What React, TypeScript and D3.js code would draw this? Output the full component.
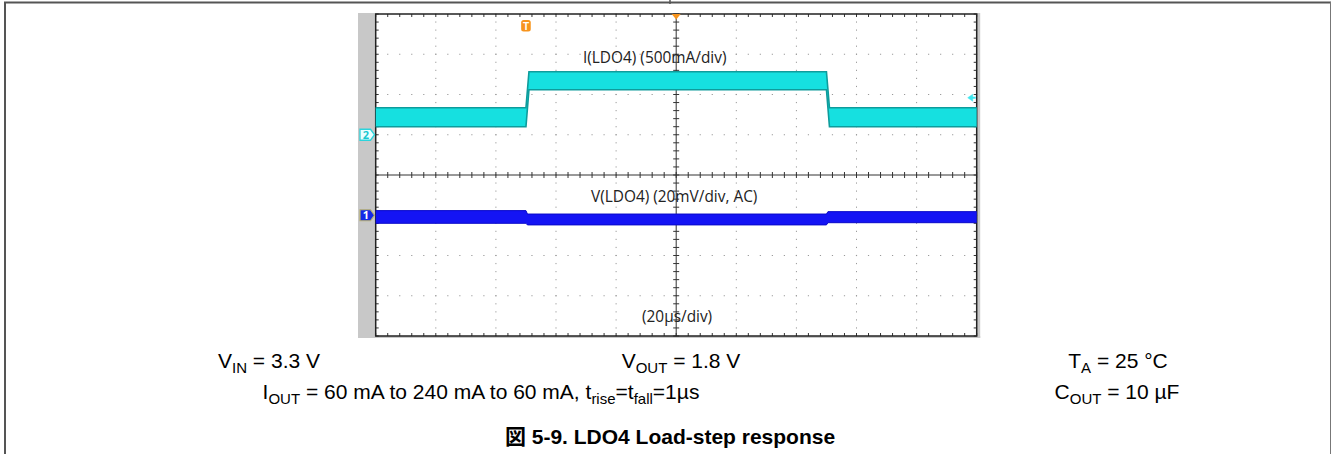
import React from 'react';
import * as d3 from 'd3';

// ---- data ----
const timeRangeUs = [-100, 100]; // 20 µs/div, 10 div
const currentRangeMA = [-2500, 1500]; // 500 mA/div, 8 div, ch2 ground at 0
const voltageRangeMV = [-60, 100]; // 20 mV/div, 8 div, ch1 marker at 0

const currentTimesUs = [-100, -50, -49, 50, 51, 100];
const currentUpperMA = [335, 335, 783, 783, 335, 335];
const currentLowerMA = [99, 99, 559, 559, 99, 99];

const voltageTimesUs = [-100, -50, -49.5, 50, 50.5, 100];
const voltageUpperMV = [2.3, 2.3, 0.6, 0.6, 1.8, 1.8];
const voltageLowerMV = [-4.0, -4.0, -4.8, -4.8, -3.7, -3.7];

const triggerTimeUs = -50;
const triggerLevelMA = 460;

const currentLabel = 'I(LDO4) (500mA/div)';
const voltageLabel = 'V(LDO4) (20mV/div, AC)';
const timeLabel = '(20µs/div)';
const captionTitle = '図 5-9. LDO4 Load-step response';

const W = 1331;
const H = 454;
const plot = { left: 375.7, right: 976.7, top: 14, bottom: 336 };
const xDivs = 10;
const yDivs = 8;
const minor = 5;

export default function App() {
  const x = d3.scaleLinear().domain(timeRangeUs).range([plot.left, plot.right]);
  const yI = d3.scaleLinear().domain(currentRangeMA).range([plot.bottom, plot.top]);
  const yV = d3.scaleLinear().domain(voltageRangeMV).range([plot.bottom, plot.top]);

  const gx = d3.scaleLinear().domain([0, xDivs]).range([plot.left, plot.right]);
  const gy = d3.scaleLinear().domain([0, yDivs]).range([plot.top, plot.bottom]);

  const xMajor = d3.range(1, xDivs);
  const yMajor = d3.range(1, yDivs);
  const xMinor = d3.range(0, xDivs * minor + 1).map((i) => i / minor);
  const yMinor = d3.range(0, yDivs * minor + 1).map((i) => i / minor);

  const idx = d3.range(currentTimesUs.length);
  const iArea = d3
    .area<number>()
    .x((i) => x(currentTimesUs[i]))
    .y0((i) => yI(currentLowerMA[i]))
    .y1((i) => yI(currentUpperMA[i]));
  const iTop = d3.line<number>().x((i) => x(currentTimesUs[i])).y((i) => yI(currentUpperMA[i]));
  const iBot = d3.line<number>().x((i) => x(currentTimesUs[i])).y((i) => yI(currentLowerMA[i]));

  const vIdx = d3.range(voltageTimesUs.length);
  const vArea = d3
    .area<number>()
    .x((i) => x(voltageTimesUs[i]))
    .y0((i) => yV(voltageLowerMV[i]))
    .y1((i) => yV(voltageUpperMV[i]));
  const vTop = d3.line<number>().x((i) => x(voltageTimesUs[i])).y((i) => yV(voltageUpperMV[i]));
  const vBot = d3.line<number>().x((i) => x(voltageTimesUs[i])).y((i) => yV(voltageLowerMV[i]));

  const cx = gx(xDivs / 2);
  const cy = gy(yDivs / 2);
  const tick = 3;

  const chTag = (yc: number) =>
    `M360,${yc - 5.5} L370.5,${yc - 5.5} L374.5,${yc} L370.5,${yc + 5.5} L360,${yc + 5.5} Z`;

  const i0 = yI(0);
  const v0 = yV(0);
  const tX = x(triggerTimeUs);
  const tl = yI(triggerLevelMA);

  const sans = 'Liberation Sans, Arial, sans-serif';
  const scopeFont = 'Open Sans, sans-serif';
  const fs = 21;
  const sub = 15;
  const sdy = 4.5;

  return (
    <svg
      width={W}
      height={H}
      style={{ position: 'absolute', left: 0, top: 0, background: '#fff' }}
      xmlns="http://www.w3.org/2000/svg"
    >
      {/* outer frame */}
      <line x1={4} x2={W} y1={2.5} y2={2.5} stroke="#555" strokeWidth={2} />
      <line x1={5} x2={5} y1={2} y2={H} stroke="#555" strokeWidth={2} />
      <line x1={670} x2={670} y1={0} y2={4} stroke="#555" strokeWidth={1.5} />
      <line x1={W - 0.5} x2={W - 0.5} y1={2} y2={H} stroke="#777" strokeWidth={1} />

      {/* scope screenshot frame */}
      <rect x={358} y={13} width={plot.left - 358} height={325} fill="#c8c8c8" />
      <rect x={plot.right} y={13} width={3.5} height={325} fill="#c8c8c8" />
      <rect x={358} y={plot.bottom} width={plot.right + 3.5 - 358} height={2} fill="#c8c8c8" />
      <rect
        x={plot.left}
        y={plot.top}
        width={plot.right - plot.left}
        height={plot.bottom - plot.top}
        fill="#fff"
      />

      {/* dotted grid */}
      <g fill="#9a9a9a">
        {xMajor
          .filter((d) => d !== xDivs / 2)
          .map((d) =>
            yMinor.map((m) => (
              <rect key={`vx${d}-${m}`} x={gx(d) - 0.5} y={gy(m) - 0.6} width={1} height={1.2} />
            ))
          )}
        {yMajor
          .filter((d) => d !== yDivs / 2)
          .map((d) =>
            xMinor.map((m) => (
              <rect key={`hy${d}-${m}`} x={gx(m) - 0.6} y={gy(d) - 0.5} width={1.2} height={1} />
            ))
          )}
      </g>

      {/* center axes with ticks */}
      <g stroke="#333" strokeWidth={1}>
        <line x1={cx} x2={cx} y1={plot.top} y2={plot.bottom} />
        <line x1={plot.left} x2={plot.right} y1={cy} y2={cy} />
        {xMinor.map((m) => (
          <line key={`cxt${m}`} x1={gx(m)} x2={gx(m)} y1={cy - tick} y2={cy + tick} />
        ))}
        {yMinor.map((m) => (
          <line key={`cyt${m}`} x1={cx - tick} x2={cx + tick} y1={gy(m)} y2={gy(m)} />
        ))}
        {/* border ticks */}
        {xMinor.map((m) => (
          <line key={`tt${m}`} x1={gx(m)} x2={gx(m)} y1={plot.top} y2={plot.top + tick} />
        ))}
        {xMinor.map((m) => (
          <line key={`bt${m}`} x1={gx(m)} x2={gx(m)} y1={plot.bottom - tick} y2={plot.bottom} />
        ))}
        {yMinor.map((m) => (
          <line key={`lt${m}`} x1={plot.left} x2={plot.left + tick} y1={gy(m)} y2={gy(m)} />
        ))}
        {yMinor.map((m) => (
          <line key={`rt${m}`} x1={plot.right - tick} x2={plot.right} y1={gy(m)} y2={gy(m)} />
        ))}
      </g>

      {/* plot border */}
      <rect
        x={plot.left}
        y={plot.top}
        width={plot.right - plot.left}
        height={plot.bottom - plot.top}
        fill="none"
        stroke="#222"
        strokeWidth={1.5}
      />

      {/* channel 2 current trace */}
      <path d={iArea(idx) || ''} fill="#16e0e0" />
      <path d={iTop(idx) || ''} fill="none" stroke="#0e9c9c" strokeWidth={1.6} />
      <path d={iBot(idx) || ''} fill="none" stroke="#0e9c9c" strokeWidth={1.6} />

      {/* channel 1 voltage trace */}
      <path d={vArea(vIdx) || ''} fill="#1414f4" />
      <path d={vTop(vIdx) || ''} fill="none" stroke="#0a0ac8" strokeWidth={1} />
      <path d={vBot(vIdx) || ''} fill="none" stroke="#0a0ac8" strokeWidth={1} />

      {/* labels inside the scope */}
      <g fontFamily={scopeFont} fontSize={15.4} fill="#222">
        <text x={583} y={63}>{currentLabel}</text>
        <text x={591} y={202}>{voltageLabel}</text>
        <text x={642} y={322}>{timeLabel}</text>
      </g>

      {/* trigger markers */}
      <path d={`M${cx - 4.5},${plot.top} L${cx + 4.5},${plot.top} L${cx},${plot.top + 5.5} Z`} fill="#f7941d" />
      <rect x={tX - 4.8} y={20} width={9.6} height={11.6} rx={2.5} fill="#f7941d" />
      <text
        x={tX}
        y={29.5}
        textAnchor="middle"
        fontFamily={sans}
        fontWeight="bold"
        fontSize={10}
        fill="#fff"
      >
        T
      </text>
      <g stroke="#3ee6ee" strokeWidth={2} fill="#3ee6ee">
        <line x1={plot.right - 7} x2={plot.right - 1} y1={tl} y2={tl} />
        <path d={`M${plot.right - 9},${tl} L${plot.right - 4},${tl - 3.5} L${plot.right - 4},${tl + 3.5} Z`} strokeWidth={0.5} />
      </g>

      {/* channel tags */}
      <path d={chTag(i0)} fill="#eaffff" stroke="#2cd4dc" strokeWidth={1.3} />
      <text x={366} y={i0 + 4} textAnchor="middle" fontFamily={scopeFont} fontWeight="bold" fontSize={11} fill="#18c8d0">
        2
      </text>
      <path d={chTag(v0)} fill="#1428e8" stroke="#b8b070" strokeWidth={1.2} />
      <text x={366} y={v0 + 4} textAnchor="middle" fontFamily={scopeFont} fontWeight="bold" fontSize={11} fill="#fff">
        1
      </text>

      {/* conditions below */}
      <g fontFamily={sans} fontSize={fs} fill="#000" textAnchor="middle">
        <text x={269} y={368}>
          V<tspan fontSize={sub} dy={sdy}>IN</tspan>
          <tspan dy={-sdy}> = 3.3 V</tspan>
        </text>
        <text x={681} y={368}>
          V<tspan fontSize={sub} dy={sdy}>OUT</tspan>
          <tspan dy={-sdy}> = 1.8 V</tspan>
        </text>
        <text x={1118} y={368}>
          T<tspan fontSize={sub} dy={sdy}>A</tspan>
          <tspan dy={-sdy}> = 25 °C</tspan>
        </text>
        <text x={481} y={399}>
          I<tspan fontSize={sub} dy={sdy}>OUT</tspan>
          <tspan dy={-sdy}> = 60 mA to 240 mA to 60 mA, t</tspan>
          <tspan fontSize={sub} dy={sdy}>rise</tspan>
          <tspan dy={-sdy}>=t</tspan>
          <tspan fontSize={sub} dy={sdy}>fall</tspan>
          <tspan dy={-sdy}>=1µs</tspan>
        </text>
        <text x={1117} y={399}>
          C<tspan fontSize={sub} dy={sdy}>OUT</tspan>
          <tspan dy={-sdy}> = 10 µF</tspan>
        </text>
      </g>
      <text
        x={670}
        y={444}
        textAnchor="middle"
        fontFamily={"Liberation Sans, 'Noto Sans CJK JP', sans-serif"}
        fontWeight="bold"
        fontSize={21}
        fill="#000"
      >
        {captionTitle}
      </text>
    </svg>
  );
}
